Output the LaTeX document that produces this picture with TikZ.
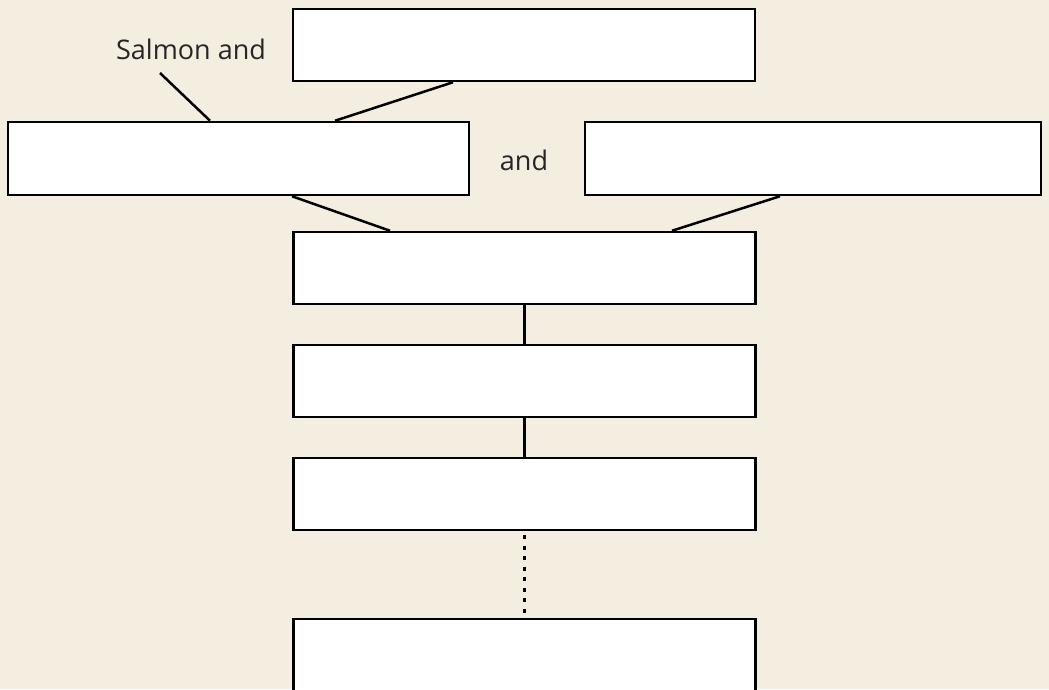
\documentclass[tikz,border=0pt]{standalone}
\usepackage{fontspec}
\setmainfont{Open Sans}
\definecolor{paper}{HTML}{F4EEE1}
\begin{document}
\begin{tikzpicture}[x=1pt, y=-1pt,
		box/.style={draw, fill=white, line width=2.5pt, minimum width=462pt, minimum height=72pt, inner sep=0pt},
		wide/.style={box, minimum width=461pt, minimum height=73pt},
		link/.style={line width=2.5pt},
		label/.style={font=\fontsize{27}{30}\selectfont\color{black!85}, inner sep=0pt}]
		    \fill[paper] (0,0) rectangle (1049,689);
		    \useasboundingbox (0,0) rectangle (1049,689);
		    \begin{scope}
		    \clip (0,0) rectangle (1049,689);
		    \node[box] (top) at (524, 45) {};
		    \node[wide] (left) at (238.5, 158.5) {};
		    \node[wide, minimum width=456pt] (right) at (813, 158.5) {};
		    \node[box] (mid1) at (524.5, 268) {};
		    \node[box] (mid2) at (524.5, 381) {};
		    \node[box] (mid3) at (524.5, 494) {};
		    \node[box, minimum height=80pt] (last) at (524.5, 659) {};
		    \end{scope}
		    \node[label, anchor=base] (salmon) at (191, 59) {Salmon and};
		    \node[label, anchor=base] (and) at (524, 170) {and};
		    \coordinate (salmontip) at (160, 73);

		    \draw[link] (salmontip) -- ([xshift=-28.5pt]left.north);
		    \draw[link] ([xshift=-71pt]top.south) -- ([xshift=96.5pt]left.north);
		    \draw[link] ([xshift=53.5pt]left.south) -- ([xshift=-134.5pt]mid1.north);
		    \draw[link] ([xshift=-33pt]right.south) -- ([xshift=147.5pt]mid1.north);
		    \draw[link] (mid1) -- (mid2);
		    \draw[link] (mid2) -- (mid3);
		    \draw[link, dash pattern=on 4pt off 6.5pt] ([yshift=-4pt]mid3.south) -- ([yshift=4pt]last.north);
\end{tikzpicture}
\end{document}
